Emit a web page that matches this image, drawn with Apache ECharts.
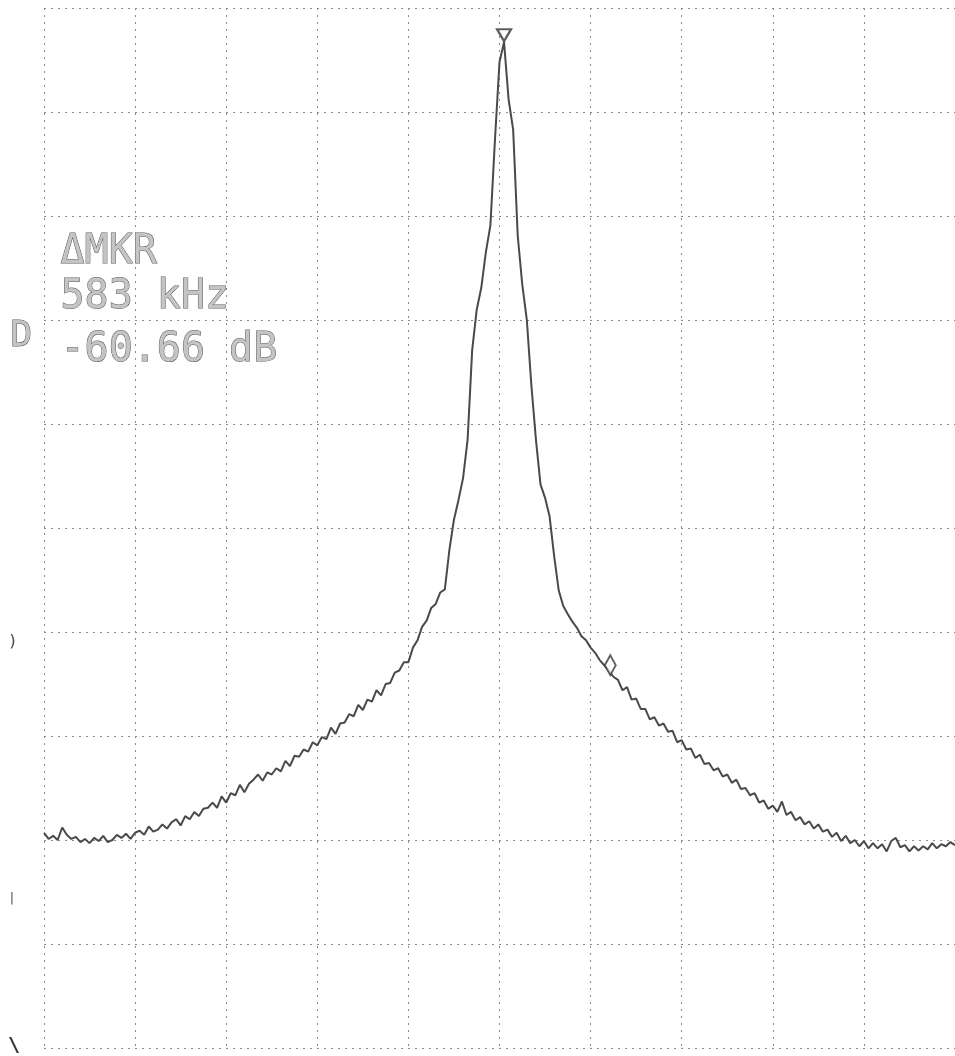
<!DOCTYPE html>
<html>
<head>
<meta charset="utf-8">
<script src="https://cdn.jsdelivr.net/npm/echarts@6/dist/echarts.min.js"></script>
<style>
  html, body { margin: 0; padding: 0; background: #fff; }
  #chart { width: 955px; height: 1056px; }
</style>
</head>
<body>
<div id="chart"></div>
<script>
// Spectrum trace: 201 points, 25 kHz apart, offsets relative to centre frequency
const START_KHZ = -2500;
const STEP_KHZ = 25;
const levels = [
  -79.3, -79.9, -79.6, -80.0, -78.8, -79.5, -79.9, -79.7, -80.2, -79.9,
  -80.3, -79.8, -80.1, -79.6, -80.2, -80.0, -79.5, -79.8, -79.4, -79.9,
  -79.3,
  -79.1, -79.5, -78.7, -79.2, -79.0, -78.5, -78.9, -78.3, -78.0, -78.6,
  -77.7, -78.0, -77.3, -77.7, -77.0, -76.9, -76.4, -76.9, -75.8, -76.4,
  -75.5, -75.7, -74.7, -75.4, -74.6, -74.2, -73.7, -74.3, -73.5, -73.7,
  -73.1, -73.4, -72.4, -72.9, -71.9, -72.0, -71.3, -71.5, -70.6, -70.9,
  -70.1, -70.3, -69.2, -69.8, -68.8, -68.7, -67.9, -68.1, -67.0, -67.5,
  -66.5, -66.7, -65.6, -66.1, -65.0, -64.9, -63.9, -63.7, -62.9, -62.9,
  -61.5, -60.8, -59.5, -58.9, -57.7, -57.3, -56.2, -55.9, -52.1, -49.2,
  -47.3, -45.2, -41.5, -32.9, -29.0, -26.9, -23.5, -20.9, -12.7, -5.2,
  -3.3, -8.8, -11.7, -21.9, -26.6, -30.0, -36.3, -41.5, -45.8, -47.1,
  -48.9, -52.7, -56.0, -57.5, -58.3, -59.0, -59.6, -60.4, -60.8, -61.5,
  -62.0, -62.7, -63.2, -63.7, -64.3, -64.6, -65.6, -65.3, -66.5, -66.4,
  -67.4, -67.4, -68.4, -68.2, -69.0, -68.8, -69.6, -69.5, -70.6, -70.4,
  -71.3, -71.2, -72.1, -71.8, -72.7, -72.6, -73.3, -73.1, -73.9, -73.7,
  -74.5, -74.2, -75.1, -75.0, -75.7, -75.5, -76.4, -76.2, -77.0, -76.7,
  -77.3, -76.3, -77.6, -77.3, -78.1, -77.8, -78.5, -78.2, -78.9, -78.5,
  -79.2, -79.0, -79.7, -79.3, -80.1, -79.6, -80.3, -80.0, -80.6, -80.1,
  -80.8, -80.3, -80.8, -80.4, -81.1, -80.1, -79.8, -80.7, -80.5, -81.1,
  -80.6, -81.0, -80.6, -80.9, -80.3, -80.8, -80.4, -80.6, -80.2, -80.5
];

// Screen layout: 10 x 10 graticule, 500 kHz/div, 10 dB/div
const X_MIN = -2500, X_MAX = 2500, X_DIV = 500;
const Y_MIN = -100, Y_MAX = 0, Y_DIV = 10;

// Delta-marker readout
const DELTA_KHZ = 583;
const DELTA_DB = -60.66;
const readout = ['\u0394MKR', DELTA_KHZ + ' kHz', DELTA_DB.toFixed(2) + ' dB'];

const trace = levels.map((v, i) => [START_KHZ + i * STEP_KHZ, v]);

// Reference marker sits on the trace maximum, delta marker is offset by the readout
let peakIdx = 0;
levels.forEach((v, i) => { if (v > levels[peakIdx]) peakIdx = i; });
const refMarker = trace[peakIdx];
const deltaMarker = [refMarker[0] + DELTA_KHZ, refMarker[1] + DELTA_DB];

const INK = '#4a4a4a';
const MARK_INK = '#363636';
const gridLine = { show: true, lineStyle: { color: '#8a8a8a', width: 1, type: [2, 5] } };

const chart = echarts.init(document.getElementById('chart'), null, { renderer: 'canvas' });
const monoFont = '"DejaVu Sans Mono", "Liberation Mono", monospace';
const readoutStyle = (text) => ({ text, font: '40px ' + monoFont, fill: '#c4c4c4', stroke: '#5a5a5a', lineWidth: 1 });

chart.setOption({
  backgroundColor: '#ffffff',
  animation: false,
  grid: { left: 44, top: 8, width: 920, height: 1040 },
  xAxis: {
    type: 'value', min: X_MIN, max: X_MAX, interval: X_DIV,
    axisLine: { show: false }, axisTick: { show: false }, axisLabel: { show: false },
    splitLine: gridLine
  },
  yAxis: {
    type: 'value', min: Y_MIN, max: Y_MAX, interval: Y_DIV,
    axisLine: { show: false }, axisTick: { show: false }, axisLabel: { show: false },
    splitLine: gridLine
  },
  series: [
    {
      type: 'line',
      data: trace,
      showSymbol: false,
      lineStyle: { color: INK, width: 2 },
      z: 3
    },
    {
      type: 'scatter',
      data: [refMarker],
      symbol: 'triangle',
      symbolRotate: 180,
      symbolSize: [14, 12],
      symbolOffset: [0, -7],
      itemStyle: { color: '#fff', borderColor: MARK_INK, borderWidth: 2.2 },
      z: 4
    },
    {
      type: 'scatter',
      data: [deltaMarker],
      symbol: 'diamond',
      symbolSize: [11, 20],
      symbolOffset: [0, -8],
      itemStyle: { color: '#fff', borderColor: MARK_INK, borderWidth: 2 },
      z: 4
    }
  ],
  graphic: [
    { type: 'text', left: 60, top: 232, style: readoutStyle(readout[0]) },
    { type: 'text', left: 60, top: 277, style: readoutStyle(readout[1]) },
    { type: 'text', left: 60, top: 330, style: readoutStyle(readout[2]) },
    { type: 'text', left: 10, top: 318, style: { text: 'D', font: '36px ' + monoFont, fill: '#c4c4c4', stroke: '#5a5a5a', lineWidth: 1 } },
    { type: 'text', left: 8, top: 634, style: { text: ')', font: '16px ' + monoFont, fill: '#444' } },
    { type: 'text', left: 8, top: 892, style: { text: '|', font: '13px ' + monoFont, fill: '#555' } },
    { type: 'text', left: 8, top: 1036, style: { text: '\\', font: 'bold 20px ' + monoFont, fill: '#333' } }
  ]
});
</script>
</body>
</html>
